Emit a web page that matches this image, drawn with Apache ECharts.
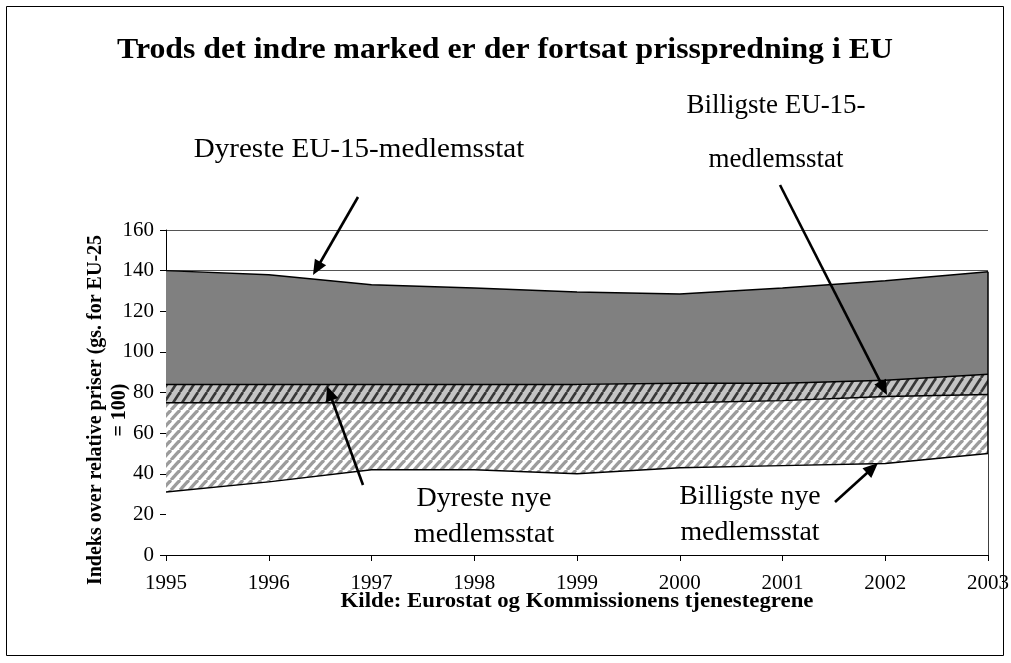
<!DOCTYPE html>
<html>
<head>
<meta charset="utf-8">
<script src="https://cdn.jsdelivr.net/npm/echarts@6/dist/echarts.min.js"></script>
<style>html,body{margin:0;padding:0;background:#fff;}#c{width:1011px;height:663px;}</style>
</head>
<body>
<div id="c"></div>
<script>
var years = ['1995','1996','1997','1998','1999','2000','2001','2002','2003'];
var dyresteEU15  = [140, 138, 133, 131.5, 129.5, 128.5, 131.5, 135, 139.5];
var billigsteEU15 = [84, 84, 84, 84, 84, 84.5, 84.5, 86, 89];
var dyresteNye   = [75, 75, 75, 75, 75, 75, 76, 78, 79];
var billigsteNye = [31, 36, 42, 42, 40, 43, 44, 45, 50];
var yTicks = [0, 20, 40, 60, 80, 100, 120, 140, 160];

function hatch(w, h, bg, fg, lw) {
  var cv = document.createElement('canvas');
  cv.width = w; cv.height = h;
  var ctx = cv.getContext('2d');
  ctx.fillStyle = bg; ctx.fillRect(0, 0, w, h);
  ctx.strokeStyle = fg; ctx.lineWidth = lw;
  for (var a = -w; a <= w; a += w) {
    ctx.beginPath(); ctx.moveTo(a, h); ctx.lineTo(a + w, 0); ctx.stroke();
  }
  return { image: cv, repeat: 'repeat' };
}
var lightHatch = hatch(9, 10, '#ffffff', '#9c9c9c', 3.2);
var darkHatch = hatch(9, 14, '#c4c4c4', '#383838', 2.6);

function arrow(x1, y1, x2, y2) {
  var dx = x2 - x1, dy = y2 - y1, L = Math.sqrt(dx*dx + dy*dy);
  var ux = dx / L, uy = dy / L, hl = 15, hw = 6.5;
  var bx = x2 - ux * hl, by = y2 - uy * hl;
  return [
    { type: 'line', shape: { x1: x1, y1: y1, x2: bx + ux*2, y2: by + uy*2 }, style: { stroke: '#000', lineWidth: 2.6 }, z: 100 },
    { type: 'polygon', shape: { points: [[x2, y2], [bx - uy*hw, by + ux*hw], [bx + uy*hw, by - ux*hw]] }, style: { fill: '#000' }, z: 100 }
  ];
}

var serif = '"Liberation Serif", "Times New Roman", serif';
function txt(x, y, s, size, bold, sx) {
  return { type: 'text', x: x, y: y, z: 100, scaleX: sx || 1,
    style: { text: s, font: (bold ? 'bold ' : '') + size + 'px ' + serif, fill: '#000', align: 'center', verticalAlign: 'middle' } };
}

var chart = echarts.init(document.getElementById('c'), null, { renderer: 'canvas' });
var lineStyle = { color: '#000', width: 1.5 };
function areaSeries(name, data, fill, z) {
  return { name: name, type: 'line', data: data, symbol: 'none', z: z,
    lineStyle: lineStyle, areaStyle: { color: fill, opacity: 1, origin: 'start' }, silent: true, animation: false };
}
var s1 = areaSeries('Dyreste EU-15-medlemsstat', dyresteEU15, '#808080', 2);
s1.markLine = { symbol: 'none', silent: true, label: { show: false }, lineStyle: { color: '#000', width: 1.5, type: 'solid' },
  data: [[{ coord: [years[years.length-1], 0] }, { coord: [years[years.length-1], dyresteEU15[dyresteEU15.length-1]] }]] };

var graphics = [
  { type: 'rect', shape: { x: 6.5, y: 6.5, width: 997, height: 649 }, style: { fill: 'none', stroke: '#000', lineWidth: 1 }, z: 0 },
  txt(505, 50, 'Trods det indre marked er der fortsat prisspredning i EU', 30, true, 1.06),
  txt(359, 150, 'Dyreste EU-15-medlemsstat', 28, false, 1.04),
  txt(776, 106, 'Billigste EU-15-', 27, false),
  txt(776, 160, 'medlemsstat', 27, false),
  txt(484, 499, 'Dyreste nye', 27, false, 1.04),
  txt(484, 535, 'medlemsstat', 27, false, 1.04),
  txt(750, 497, 'Billigste nye', 27, false, 1.03),
  txt(750, 533, 'medlemsstat', 27, false, 1.03),
  txt(577, 602, 'Kilde: Eurostat og Kommissionens tjenestegrene', 20, true, 1.14),
  { type: 'text', x: 108, y: 410, rotation: Math.PI / 2, z: 100,
    style: { text: 'Indeks over relative priser (gs. for EU-25\n= 100)', font: 'bold 20px ' + serif, fill: '#000', align: 'center', verticalAlign: 'middle', lineHeight: 24 } }
].concat(arrow(358, 197, 313, 275), arrow(780, 185, 887, 395), arrow(363, 485, 327, 386), arrow(835, 502, 878, 463));

chart.setOption({
  animation: false,
  backgroundColor: '#fff',
  grid: { left: 166, right: 23, top: 230, bottom: 108, containLabel: false, outerBoundsMode: 'none' },
  xAxis: {
    type: 'category', data: years, boundaryGap: false,
    axisLine: { lineStyle: { color: '#000', width: 1 } },
    axisTick: { show: true, inside: false, length: 6, lineStyle: { color: '#000' }, alignWithLabel: true },
    axisLabel: { color: '#000', fontFamily: serif, fontSize: 21, margin: 18 },
    splitLine: { show: false }
  },
  yAxis: {
    type: 'value', min: yTicks[0], max: yTicks[yTicks.length-1], interval: yTicks[1] - yTicks[0],
    axisLine: { show: true, lineStyle: { color: '#000', width: 1 } },
    axisTick: { show: true, inside: false, length: 6, lineStyle: { color: '#000' } },
    axisLabel: { color: '#000', fontFamily: serif, fontSize: 21, margin: 12 },
    splitLine: { show: true, lineStyle: { color: '#555', width: 1 } }
  },
  series: [
    s1,
    areaSeries('Billigste EU-15-medlemsstat', billigsteEU15, darkHatch, 3),
    areaSeries('Dyreste nye medlemsstat', dyresteNye, lightHatch, 4),
    areaSeries('Billigste nye medlemsstat', billigsteNye, '#ffffff', 5)
  ],
  graphic: graphics
});
</script>
</body>
</html>
